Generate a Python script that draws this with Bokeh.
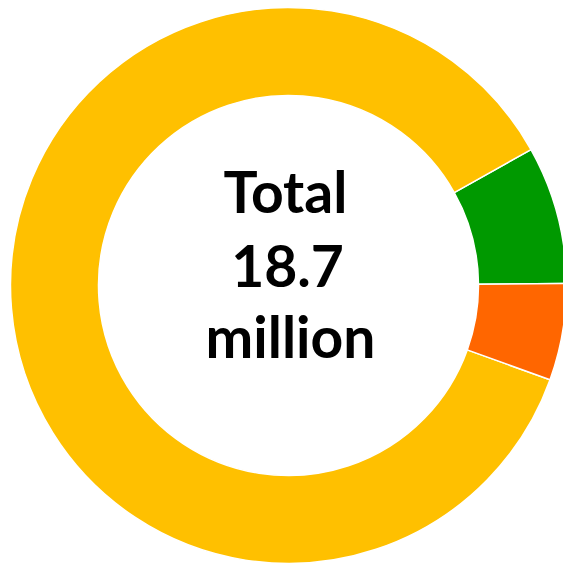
import math
from bokeh.plotting import figure
from bokeh.models import ColumnDataSource, Range1d
from bokeh.core.properties import value
from bokeh.embed import file_html
from bokeh.resources import INLINE

# Data (millions)
categories = ["Green", "Yellow", "Orange"]
values = [1.5, 16.15, 1.05]
colors = ["#009900", "#FFC000", "#FF6600"]
center_lines = ["Total", "18.7", "million"]

W, H = 563, 564
cx, cy = 288, 564 - 285
r_out, r_in = 278, 190
start_deg = 0.4

total = sum(values)
starts, ends = [], []
a = math.radians(start_deg)
for v in values:
    starts.append(a)
    a += 2 * math.pi * v / total
    ends.append(a)

src = ColumnDataSource(dict(cat=categories, val=values, color=colors,
                            start=starts, end=ends,
                            x=[cx] * len(values), y=[cy] * len(values)))

p = figure(width=W, height=H, output_backend="svg", toolbar_location=None,
           x_range=Range1d(0, W), y_range=Range1d(0, H), min_border=0)
p.axis.visible = False
p.grid.visible = False
p.outline_line_color = None
p.background_fill_color = "white"

p.annular_wedge(x="x", y="y", inner_radius=r_in, outer_radius=r_out,
                start_angle="start", end_angle="end", fill_color="color",
                line_color="white", line_width=1.5, source=src)

baselines = [374, 299, 229]
tsrc = ColumnDataSource(dict(x=[cx - 3, cx - 1, cx + 2], y=baselines, t=center_lines))
p.text(x="x", y="y", text="t", source=tsrc, text_align="center",
       text_baseline="alphabetic", text_font=value("Lato"),
       text_font_style="bold", text_font_size="57px", text_color="black")

open("out.html", "w").write(file_html(p, INLINE))
